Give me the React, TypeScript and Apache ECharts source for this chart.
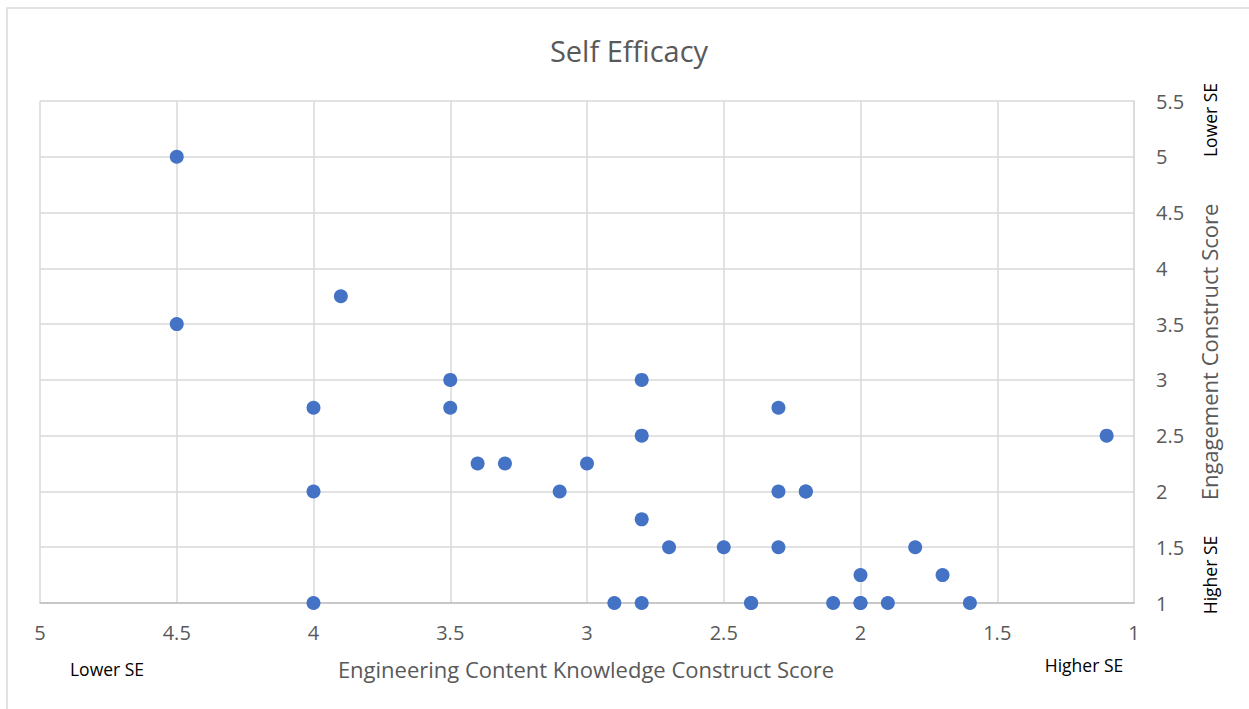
import React, { useEffect, useRef } from "react";
import * as echarts from "echarts";

const xScores = [4.5, 4.5, 3.9, 4, 4, 4, 3.5, 3.5, 3.4, 3.3, 3.0, 3.1, 2.8, 2.8, 2.8, 2.8, 2.9, 2.7, 2.5, 2.4, 2.4, 2.3, 2.3, 2.3, 2.2, 2.2, 2.1, 2.0, 2.0, 2.0, 1.9, 1.8, 1.7, 1.6, 1.1];
const yScores = [5, 3.5, 3.75, 2.75, 2, 1, 3, 2.75, 2.25, 2.25, 2.25, 2, 3, 2.5, 1.75, 1, 1, 1.5, 1.5, 1, 1, 2.75, 2, 1.5, 2, 2, 1, 1.25, 1, 1, 1, 1.5, 1.25, 1, 2.5];

const titleText = "Self Efficacy";
const xAxisTitle = "Engineering Content Knowledge Construct Score";
const yAxisTitle = "Engagement Construct Score";
const lowLabel = "Lower SE";
const highLabel = "Higher SE";

const FONT = "'Open Sans', 'Noto Sans', sans-serif";

export default function App() {
  const ref = useRef<HTMLDivElement>(null);
  useEffect(() => {
    if (!ref.current) return;
    const chart = echarts.init(ref.current, undefined, { renderer: "svg" });
    const points = xScores.map((x, i) => [x, yScores[i]]);
    chart.setOption({
      animation: false,
      backgroundColor: "#ffffff",
      textStyle: { fontFamily: FONT },
      grid: { left: 40, right: 115, top: 101, bottom: 106 },
      xAxis: {
        type: "value",
        min: 1,
        max: 5,
        interval: 0.5,
        inverse: true,
        axisLine: { show: true, lineStyle: { color: "#bfbfbf", width: 1.5 } },
        axisTick: { show: false },
        axisLabel: { color: "#595959", fontSize: 20, margin: 19, fontFamily: FONT },
        splitLine: { show: true, lineStyle: { color: "#d9d9d9", width: 1.5 } },
      },
      yAxis: {
        type: "value",
        position: "right",
        min: 1,
        max: 5.5,
        interval: 0.5,
        axisLine: { show: true, lineStyle: { color: "#d9d9d9", width: 1.5 } },
        axisTick: { show: false },
        axisLabel: { color: "#595959", fontSize: 20, margin: 22, fontFamily: FONT },
        splitLine: { show: true, lineStyle: { color: "#d9d9d9", width: 1.5 } },
      },
      series: [
        {
          type: "scatter",
          data: points,
          symbol: "circle",
          symbolSize: 14,
          itemStyle: { color: "#4472c4", opacity: 1 },
        },
      ],
      graphic: [
        {
          type: "rect",
          shape: { x: 7, y: 8, width: 1300, height: 800 },
          style: { fill: "none", stroke: "#d9d9d9", lineWidth: 1.5 },
          silent: true,
        },
        {
          type: "text",
          x: 629,
          y: 50,
          style: { text: titleText, fontFamily: FONT, fontSize: 29, fill: "#595959", align: "center", verticalAlign: "middle" },
        },
        {
          type: "text",
          x: 586,
          y: 669,
          style: { text: xAxisTitle, fontFamily: FONT, fontSize: 22, fill: "#595959", align: "center", verticalAlign: "middle" },
        },
        {
          type: "text",
          x: 1209,
          y: 352,
          rotation: Math.PI / 2,
          style: { text: yAxisTitle, fontFamily: FONT, fontSize: 22, fill: "#595959", align: "center", verticalAlign: "middle" },
        },
        {
          type: "text",
          x: 107,
          y: 669,
          style: { text: lowLabel, fontFamily: FONT, fontSize: 17.5, fill: "#000000", align: "center", verticalAlign: "middle" },
        },
        {
          type: "text",
          x: 1084,
          y: 665,
          style: { text: highLabel, fontFamily: FONT, fontSize: 17.5, fill: "#000000", align: "center", verticalAlign: "middle" },
        },
        {
          type: "text",
          x: 1210,
          y: 120,
          rotation: Math.PI / 2,
          style: { text: lowLabel, fontFamily: FONT, fontSize: 17.5, fill: "#000000", align: "center", verticalAlign: "middle" },
        },
        {
          type: "text",
          x: 1210,
          y: 575,
          rotation: Math.PI / 2,
          style: { text: highLabel, fontFamily: FONT, fontSize: 17.5, fill: "#000000", align: "center", verticalAlign: "middle" },
        },
      ],
    });
    return () => chart.dispose();
  }, []);
  return (
    <div
      ref={ref}
      style={{ position: "fixed", left: 0, top: 0, width: 1249, height: 709 }}
    />
  );
}
